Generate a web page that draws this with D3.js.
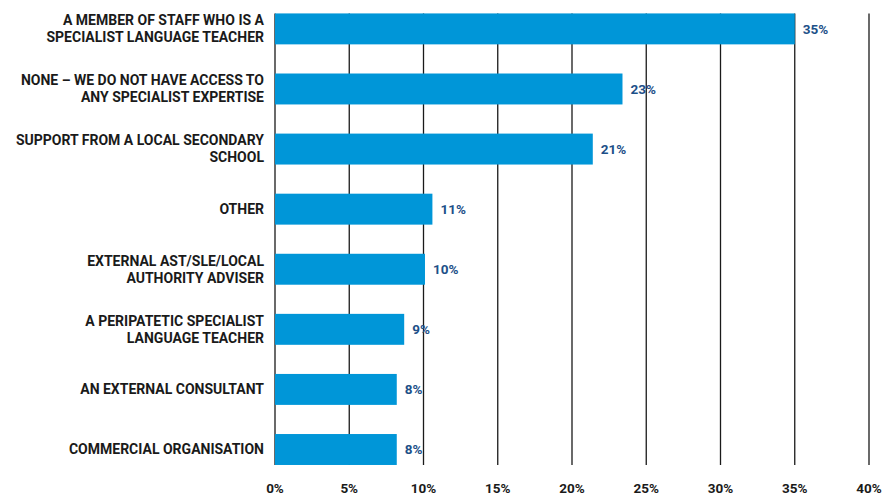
<!DOCTYPE html>
<html><head><meta charset="utf-8">
<script src="https://cdn.jsdelivr.net/npm/d3@7"></script>
<style>body{margin:0;background:#fff}svg{display:block}</style>
</head><body>
<svg id="c" width="882" height="497"></svg>
<script>
const categories = [
  ["A MEMBER OF STAFF WHO IS A","SPECIALIST LANGUAGE TEACHER"],
  ["NONE – WE DO NOT HAVE ACCESS TO","ANY SPECIALIST EXPERTISE"],
  ["SUPPORT FROM A LOCAL SECONDARY","SCHOOL"],
  ["OTHER"],
  ["EXTERNAL AST/SLE/LOCAL","AUTHORITY ADVISER"],
  ["A PERIPATETIC SPECIALIST","LANGUAGE TEACHER"],
  ["AN EXTERNAL CONSULTANT"],
  ["COMMERCIAL ORGANISATION"]
];
const values = [35.0, 23.4, 21.4, 10.6, 10.1, 8.7, 8.2, 8.2];
const valueLabels = ["35%","23%","21%","11%","10%","9%","8%","8%"];
const ticks = [0,5,10,15,20,25,30,35,40];

const svg = d3.select("#c");
const font = "Roboto, 'Open Sans', sans-serif";
const x = d3.scaleLinear().domain([0,40]).range([275,869]);
const idx = categories.map((d,i)=>i);
const y = d3.scaleBand().domain(idx).range([-1.6, 480.0]).paddingInner(0.485).paddingOuter(0.25);

// gridlines
const gTop = y(0), gBot = y(7)+y.bandwidth();
svg.append("g").selectAll("line").data(ticks).join("line")
  .attr("x1",d=>x(d)).attr("x2",d=>x(d))
  .attr("y1",gTop).attr("y2",gBot)
  .attr("stroke","#1a1a1a").attr("stroke-width",1.3);

// bars
svg.append("g").selectAll("rect").data(values).join("rect")
  .attr("x",x(0)).attr("y",(d,i)=>y(i))
  .attr("width",d=>x(d)-x(0)).attr("height",y.bandwidth())
  .attr("fill","#0096d8");

// value labels
svg.append("g").selectAll("text").data(values).join("text")
  .attr("x",d=>x(d)+8).attr("y",(d,i)=>y(i)+y.bandwidth()/2)
  .attr("dy","0.35em")
  .attr("font-family",font).attr("font-weight","bold").attr("font-size",13.5)
  .attr("fill","#1d5088")
  .text((d,i)=>valueLabels[i]);

// category labels
const cl = svg.append("g");
categories.forEach((lines,i)=>{
  const cy = y(i)+y.bandwidth()/2;
  const n = lines.length;
  lines.forEach((t,j)=>{
    cl.append("text")
      .attr("x",264).attr("y",cy + (j-(n-1)/2)*17)
      .attr("dy","0.35em").attr("text-anchor","end")
      .attr("font-family",font).attr("font-weight","bold").attr("font-size",14)
      .attr("fill","#1a1a1a")
      .text(t);
  });
});

// x tick labels
svg.append("g").selectAll("text").data(ticks).join("text")
  .attr("x",d=>x(d)).attr("y",488).attr("dy","0.35em")
  .attr("text-anchor","middle")
  .attr("font-family",font).attr("font-weight","bold").attr("font-size",13.5)
  .attr("fill","#1a1a1a")
  .text(d=>d+"%");
</script>
</body></html>
